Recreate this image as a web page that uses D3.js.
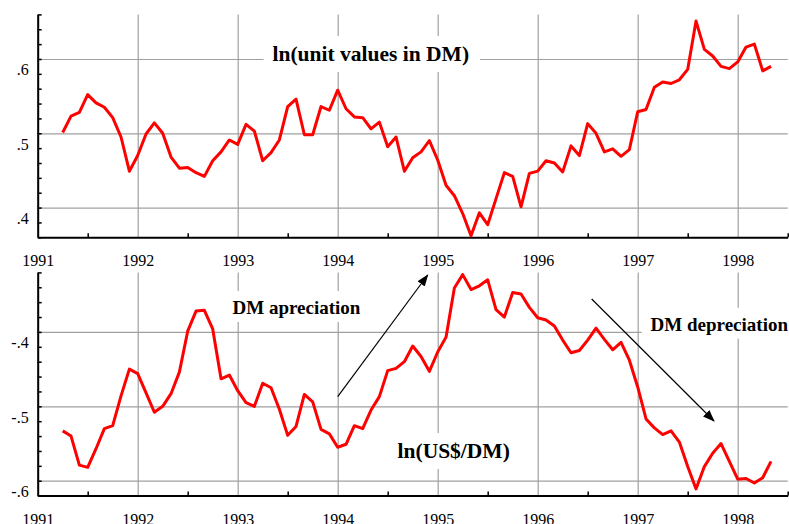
<!DOCTYPE html>
<html><head><meta charset="utf-8">
<script src="https://cdn.jsdelivr.net/npm/d3@7"></script>
<style>
html,body{margin:0;padding:0;background:#fff;}
svg{display:block;}
text{font-family:"Liberation Serif","Times New Roman",Times,serif;}
</style>
</head><body>
<svg id="chart" width="789" height="524"></svg>
<script>
// ---- data (monthly, April 1991 .. May 1998) ----
const startMonth = 1991 + 3/12;
const unitValues = [.501,.523,.528,.552,.541,.535,.521,.495,.449,.470,.499,.514,.500,.468,.453,.454,.447,.442,.463,.475,.491,.485,.512,.503,.463,.474,.491,.536,.546,.498,.498,.536,.531,.558,.533,.522,.521,.506,.515,.482,.495,.449,.467,.475,.490,.464,.430,.416,.392,.362,.393,.377,.412,.447,.442,.401,.446,.449,.463,.460,.448,.483,.470,.513,.500,.475,.479,.469,.478,.529,.532,.562,.569,.567,.572,.586,.651,.613,.604,.590,.587,.596,.616,.620,.584,.590];
const usdDm = [-.533,-.540,-.579,-.582,-.557,-.530,-.526,-.486,-.450,-.456,-.482,-.508,-.500,-.483,-.454,-.399,-.372,-.371,-.396,-.463,-.458,-.479,-.495,-.500,-.469,-.475,-.504,-.539,-.527,-.484,-.494,-.531,-.537,-.555,-.551,-.526,-.530,-.505,-.487,-.452,-.449,-.440,-.419,-.433,-.453,-.427,-.407,-.341,-.323,-.343,-.338,-.330,-.370,-.380,-.347,-.349,-.367,-.381,-.384,-.392,-.411,-.428,-.425,-.411,-.395,-.410,-.424,-.414,-.438,-.474,-.517,-.529,-.538,-.533,-.548,-.581,-.611,-.581,-.563,-.550,-.574,-.598,-.597,-.603,-.596,-.574];
const years = [1991,1992,1993,1994,1995,1996,1997,1998];
const halfYears = [1991.5,1992.5,1993.5,1994.5,1995.5,1996.5,1997.5,1998.5];
const topMajor = [.4,.5,.6];
const topMajorLabels = [".4",".5",".6"];
const botMajor = [-.6,-.5,-.4];
const botMajorLabels = ["-.6","-.5","-.4"];
const topTitle = "ln(unit values in DM)";
const botTitle = "ln(US$/DM)";
const notes = [
  {text:"DM apreciation", x:1993.588, y:-0.3759},
  {text:"DM depreciation", x:1997.816, y:-0.3984}
];
const arrows = [
  {x1:1994.0, y1:-0.487, x2:1994.9, y2:-0.3235},
  {x1:1996.54, y1:-0.3558, x2:1997.763, y2:-0.5197}
];

// ---- layout ----
const svg = d3.select("#chart");
svg.append("rect").attr("width",789).attr("height",524).attr("fill","#fff");
const x = d3.scaleLinear().domain([1991,1998.5]).range([37.7,787.7]);
const yTop = d3.scaleLinear().domain([.36,.66]).range([237.3,14.4]);
const yBot = d3.scaleLinear().domain([-.62,-.32]).range([495.6,272.4]);
const gridColor = "#a0a0a0";

function panel(y, vals, majors, majorLabels, minorStep, title, titlePos) {
  const g = svg.append("g");
  const [y0,y1] = y.range();
  // vertical year grid lines + year labels
  const xg = g.append("g").attr("transform",`translate(0,${y0})`)
    .call(d3.axisBottom(x).tickValues(years).tickSizeInner(-(y0-y1)).tickSizeOuter(0).tickFormat(d3.format("d")));
  xg.select(".domain").remove();
  xg.selectAll(".tick line").attr("stroke",gridColor).attr("stroke-width",1.2);
  xg.selectAll(".tick text").attr("y",29).attr("dy",0).attr("font-size",16)
    .attr("font-family",'"Liberation Serif",Times,serif').attr("fill","#000");
  // horizontal grid lines
  const yg = g.append("g").attr("transform",`translate(${x.range()[0]},0)`)
    .call(d3.axisLeft(y).tickValues(majors).tickSizeInner(-(x.range()[1]-x.range()[0])).tickSizeOuter(0).tickFormat(""));
  yg.select(".domain").remove();
  yg.selectAll(".tick line").attr("stroke",gridColor).attr("stroke-width",1.2);
  // title with white box
  const tg = g.append("g");
  const t = tg.append("text").attr("x",x(titlePos[0])).attr("y",y(titlePos[1]))
    .attr("text-anchor","middle").attr("font-weight","bold").attr("font-size",21.5).text(title);
  const bb = t.node().getBBox();
  tg.insert("rect","text").attr("x",bb.x-9).attr("y",bb.y-6).attr("width",bb.width+20).attr("height",bb.height+12).attr("fill","#fff");
  // y axis with minor ticks inward
  const [d0,d1] = y.domain();
  const n = Math.round((d1-d0)/minorStep);
  const minor = d3.range(n+1).map(i => +(d0 + i*minorStep).toFixed(3));
  const ya = g.append("g").attr("class","yaxis").attr("transform",`translate(${x.range()[0]},0)`)
    .call(d3.axisLeft(y).tickValues(minor).tickSizeInner(-4).tickSizeOuter(0).tickPadding(9)
      .tickFormat(v => { const k = majors.findIndex(m => Math.abs(m-v)<1e-6); return k>=0 ? majorLabels[k] : ""; }));
  ya.select(".domain").attr("stroke","#000").attr("stroke-width",2);
  ya.selectAll(".tick line").attr("stroke","#000").attr("stroke-width",1.5);
  ya.selectAll(".tick text").attr("dy",16).attr("font-size",16)
    .attr("font-family",'"Liberation Serif",Times,serif').attr("fill","#000");
  // x axis line with half-year ticks
  const xa = g.append("g").attr("transform",`translate(0,${y0})`)
    .call(d3.axisBottom(x).tickValues(halfYears).tickSizeInner(-4).tickSizeOuter(0).tickFormat(""));
  xa.select(".domain").attr("stroke","#000").attr("stroke-width",2);
  xa.selectAll(".tick line").attr("stroke","#000").attr("stroke-width",1.5);
  // series
  const line = d3.line().x((d,i) => x(startMonth + i/12)).y(d => y(d));
  g.append("path").datum(vals).attr("d",line).attr("fill","none")
    .attr("stroke","#ff0000").attr("stroke-width",3).attr("stroke-linejoin","round");
  return g;
}

panel(yTop, unitValues, topMajor, topMajorLabels, 0.02, topTitle, [1994.331, .5973]);
panel(yBot, usdDm, botMajor, botMajorLabels, 0.02, botTitle, [1995.16, -.5695]);

// annotations
notes.forEach(nt => {
  const tg = svg.append("g");
  const t = tg.append("text").attr("x",x(nt.x)).attr("y",yBot(nt.y)).attr("text-anchor","middle")
    .attr("font-weight","bold").attr("font-size",19).text(nt.text);
  const bb = t.node().getBBox();
  tg.insert("rect","text").attr("x",bb.x-9).attr("y",bb.y-6).attr("width",bb.width+18).attr("height",bb.height+10).attr("fill","#fff");
});

svg.append("defs").append("marker").attr("id","ah").attr("markerUnits","userSpaceOnUse")
  .attr("viewBox","0 -5 12 10").attr("refX",11).attr("refY",0).attr("markerWidth",12).attr("markerHeight",10)
  .attr("orient","auto").append("path").attr("d","M0,-4.5L12,0L0,4.5Z").attr("fill","#000");
svg.append("g").selectAll("line").data(arrows).join("line")
  .attr("x1",d=>x(d.x1)).attr("y1",d=>yBot(d.y1)).attr("x2",d=>x(d.x2)).attr("y2",d=>yBot(d.y2))
  .attr("stroke","#000").attr("stroke-width",1.2).attr("marker-end","url(#ah)");
</script>
</body></html>
